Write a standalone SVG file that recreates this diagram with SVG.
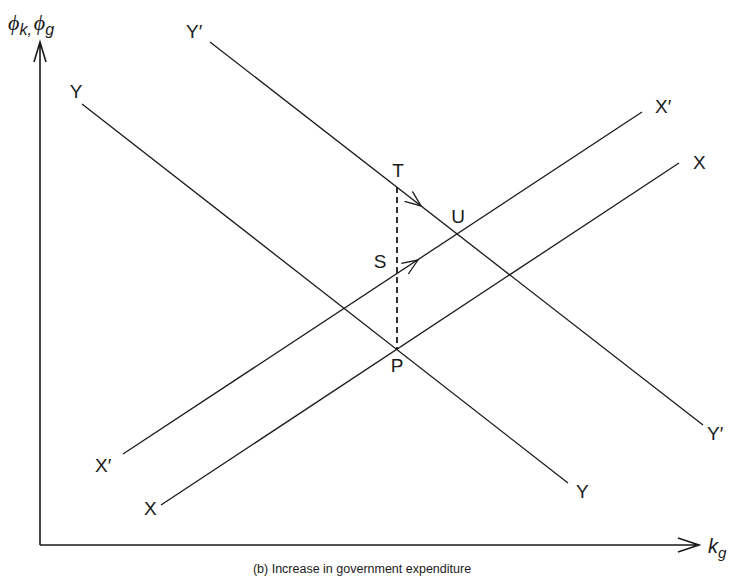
<svg xmlns="http://www.w3.org/2000/svg" width="737" height="579" viewBox="0 0 737 579">
<style>
.ln{stroke:#1a1a1a;stroke-width:1.3;fill:none}
.ax{stroke:#1a1a1a;stroke-width:1.6;fill:none}
.lb{font-family:"Liberation Sans",Arial,sans-serif;font-size:19px;fill:#1a1a1a}
.cap{font-family:"Liberation Sans",Arial,sans-serif;font-size:12.5px;fill:#1a1a1a}
.gr{font-family:"Liberation Serif","DejaVu Serif",serif;font-style:italic;font-size:22px;fill:#1a1a1a}
.it{font-family:"Liberation Sans",Arial,sans-serif;font-style:italic;fill:#1a1a1a}
</style>
<rect width="737" height="579" fill="#fff"/>
<g id="axes">
<path class="ax" d="M40,545 V42 M34,62 L40,42 L46,62"/>
<path class="ax" d="M40,545 H699 M678,538 L699,545 L678,552"/>
<text x="8" y="30" class="gr">ϕ<tspan class="it" font-size="16" dy="5">k,</tspan><tspan dy="-5" dx="2">ϕ</tspan><tspan class="it" font-size="16" dy="5">g</tspan></text>
<text x="708" y="553" class="it" font-size="20">k<tspan font-size="15" dy="5">g</tspan></text>
<text x="362" y="573" class="cap" text-anchor="middle">(b) Increase in government expenditure</text>
</g>
<g id="connectors">
<line id="YY" class="ln" x1="82" y1="104" x2="568" y2="483"/>
<line id="YpYp" class="ln" x1="210" y1="42" x2="703" y2="425"/>
<line id="XpXp" class="ln" x1="123" y1="454" x2="642" y2="112"/>
<line id="XX" class="ln" x1="161" y1="505" x2="679" y2="163"/>
<line id="TP" stroke="#1a1a1a" stroke-width="1.8" stroke-dasharray="6,4" x1="397" y1="187" x2="397" y2="350"/>
<path class="ln" d="M412.4,191.3 L421,206 L404.6,201.4"/>
<path class="ln" d="M401.3,263.4 L418,260 L408.3,274"/>
</g>
<g id="labels">
<text class="lb" x="76" y="98" text-anchor="middle">Y</text>
<text class="lb" x="186" y="38">Y′</text>
<text class="lb" x="707" y="440">Y′</text>
<text class="lb" x="576" y="498">Y</text>
<text class="lb" x="655" y="113">X′</text>
<text class="lb" x="693" y="169">X</text>
<text class="lb" x="95" y="472">X′</text>
<text class="lb" x="144" y="515">X</text>
<text class="lb" x="398" y="177" text-anchor="middle">T</text>
<text class="lb" x="458" y="223" text-anchor="middle">U</text>
<text class="lb" x="380" y="268" text-anchor="middle">S</text>
<text class="lb" x="397" y="372" text-anchor="middle">P</text>
</g>
</svg>
